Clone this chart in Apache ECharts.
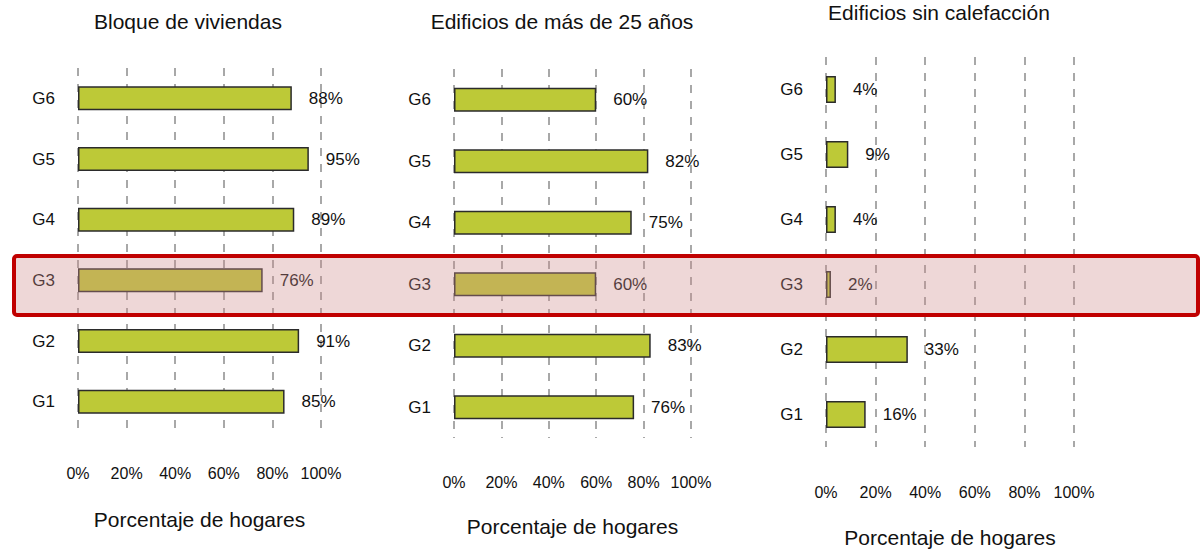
<!DOCTYPE html>
<html>
<head>
<meta charset="utf-8">
<script src="https://cdn.jsdelivr.net/npm/echarts@6/dist/echarts.min.js"></script>
<style>
  html, body { margin: 0; padding: 0; background: #fff; }
  #chart { width: 1204px; height: 556px; }
</style>
</head>
<body>
<div id="chart"></div>
<script>
var grupos = ['G1', 'G2', 'G3', 'G4', 'G5', 'G6'];
var bloque = [85, 91, 76, 89, 95, 88];
var edificios25 = [76, 83, 60, 75, 82, 60];
var sinCalefaccion = [16, 33, 2, 4, 9, 4];
var titulos = ['Bloque de viviendas', 'Edificios de más de 25 años', 'Edificios sin calefacción'];
var ejeNombre = 'Porcentaje de hogares';

var fuente = "'Liberation Sans', Arial, sans-serif";
var verde = '#BDC937';

// layout of the three panels
var paneles = [
	{ left: 78, top: 68, width: 243, height: 364, barW: 24, margin: 33, gap: 77, titleX: 188, titleY: 21 },
	{ left: 454, top: 69, width: 237, height: 369, barW: 24, margin: 36, gap: 78, titleX: 562, titleY: 21 },
	{ left: 826, top: 57, width: 248, height: 390, barW: 27, margin: 37, gap: 80, titleX: 939, titleY: 12 }
];
var valores = [bloque, edificios25, sinCalefaccion];

var chart = echarts.init(document.getElementById('chart'), null, { renderer: 'svg' });

var grids = [], xAxes = [], yAxes = [], series = [], textos = [];
paneles.forEach(function(p, i) {
	grids.push({ left: p.left, top: p.top, width: p.width, height: p.height });
	xAxes.push({
		type: 'value',
		gridIndex: i,
		min: 0,
		max: 100,
		interval: 20,
		axisLine: { show: false },
		axisTick: { show: false },
		axisLabel: {
			margin: p.margin,
			fontSize: 16,
			fontFamily: fuente,
			color: '#111',
			formatter: '{value}%'
		},
		splitLine: {
			show: true,
			lineStyle: { color: '#8c8c8c', width: 1.5, type: [8, 8] }
		},
		name: ejeNombre,
		nameLocation: 'middle',
		nameGap: p.gap,
		nameTextStyle: { fontSize: 21, fontFamily: fuente, color: '#111' }
	});
	yAxes.push({
		type: 'category',
		gridIndex: i,
		data: grupos,
		axisLine: { show: false },
		axisTick: { show: false },
		axisLabel: { margin: 23, fontSize: 17, fontFamily: fuente, color: '#111' }
	});
	series.push({
		type: 'bar',
		xAxisIndex: i,
		yAxisIndex: i,
		data: valores[i],
		barWidth: p.barW,
		itemStyle: { color: verde, borderColor: '#2b2b2b', borderWidth: 1.5 },
		label: {
			show: true,
			position: 'right',
			distance: 17,
			formatter: '{c}%',
			fontSize: 17,
			fontFamily: fuente,
			color: '#111'
		},
		silent: true
	});
	textos.push({
		type: 'text',
		x: p.titleX,
		y: p.titleY,
		style: {
			text: titulos[i],
			fontSize: 21,
			fontFamily: fuente,
			fill: '#111',
			textAlign: 'center',
			textVerticalAlign: 'middle'
		}
	});
});

// highlighted row (G3)
textos.push({
	type: 'rect',
	z: 100,
	shape: { x: 14, y: 256, width: 1184, height: 59, r: 3 },
	style: { fill: 'rgba(205,140,140,0.35)', stroke: '#C00000', lineWidth: 4 }
});

chart.setOption({
	backgroundColor: '#fff',
	animation: false,
	grid: grids,
	xAxis: xAxes,
	yAxis: yAxes,
	series: series,
	graphic: textos
});
</script>
</body>
</html>
